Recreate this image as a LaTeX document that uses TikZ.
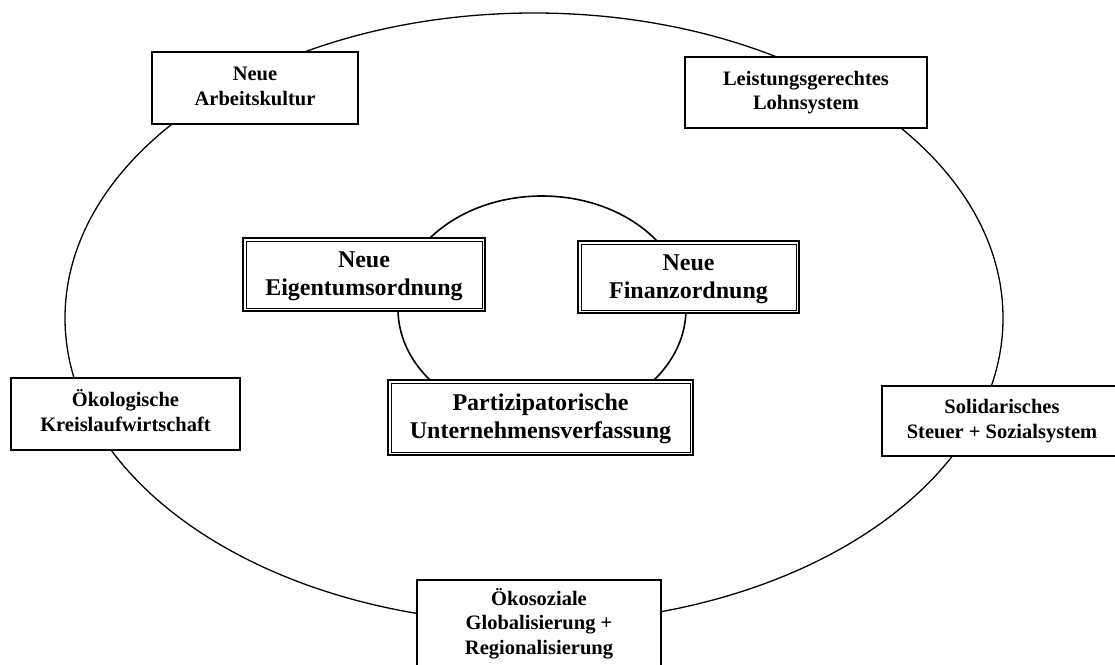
\documentclass[tikz,border=0pt]{standalone}
\usepackage{fontspec}
\setmainfont{Liberation Serif}
\begin{document}
\begin{tikzpicture}[x=1pt,y=-1pt,
  ring/.style={draw=black, line width=1.3pt},
  innerring/.style={draw=black, line width=1.6pt},
  obox/.style={draw=black, line width=1.4pt, fill=white, align=center,
    font=\fontsize{20.5}{24.5}\selectfont\bfseries, inner sep=0pt},
  ibox/.style={draw=black, line width=2pt, fill=white, align=center,
    font=\fontsize{24}{28}\selectfont\bfseries, inner sep=0pt,
    path picture={\draw[line width=0.8pt]
      ([shift={(3pt,3pt)}]path picture bounding box.south west) rectangle
      ([shift={(-3pt,-3pt)}]path picture bounding box.north east);}}
]
\useasboundingbox (0,0) rectangle (1115,664);
\clip (0,0) rectangle (1115,664);
\fill[white] (0,0) rectangle (1115,664);
% rings
\draw[ring] (534,318) ellipse [x radius=469pt, y radius=305pt];
\draw[innerring] (542,309) ellipse [x radius=144pt, y radius=113pt];
% outer boxes
\node[obox, minimum width=206pt, minimum height=72pt] (arb) at (255,88) {\strut Neue\\\strut Arbeitskultur};
\node[obox, minimum width=242pt, minimum height=71pt] (lohn) at (806,92.5) {\strut Leistungsgerechtes\\\strut Lohnsystem};
\node[obox, minimum width=229pt, minimum height=72pt] (oeko) at (125.5,414) {\strut Ökologische\\\strut Kreislaufwirtschaft};
\node[obox, minimum width=240pt, minimum height=70pt] (soli) at (1002,421) {\strut Solidarisches\\\strut Steuer + Sozialsystem};
\node[obox, minimum width=244pt, minimum height=90pt] (glob) at (539,625) {\strut Ökosoziale\\\strut Globalisierung +\\\strut Regionalisierung};
% inner boxes
\node[ibox, minimum width=242pt, minimum height=73pt] (eig) at (364,274.5) {\strut Neue\\Eigentumsordnung};
\node[ibox, minimum width=221pt, minimum height=72pt] (fin) at (688.5,277) {\strut Neue\\Finanzordnung};
\node[ibox, minimum width=305pt, minimum height=75pt] (part) at (540.5,417.5) {\strut Partizipatorische\\Unternehmensverfassung};
\end{tikzpicture}
\end{document}
